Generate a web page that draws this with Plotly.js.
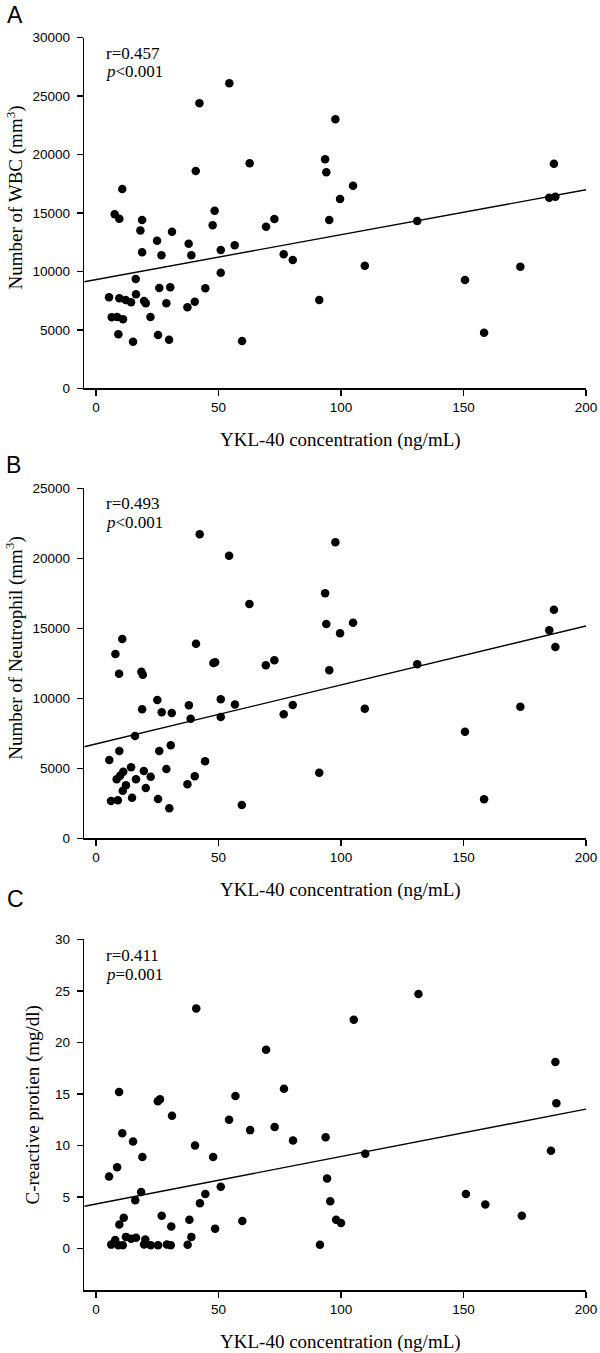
<!DOCTYPE html>
<html>
<head>
<meta charset="utf-8">
<script src="https://cdn.plot.ly/plotly-3.0.1.min.js"></script>
<style>
html,body{margin:0;padding:0;background:#fff;}
#chart{width:600px;height:1353px;}
</style>
</head>
<body>
<div id="chart"></div>
<script>
// ---------- DATA ----------
// Panel A: WBC vs YKL-40
const ykl40_A = [54.4,42.2,40.7,62.7,10.7,7.6,9.5,18.8,18.1,24.9,31.0,18.8,26.7,37.8,38.9,48.4,47.6,50.9,56.6,69.4,72.8,50.9,16.2,16.3,5.3,9.5,12.1,14.3,19.6,20.3,25.8,30.3,28.7,44.6,40.3,37.3,6.4,8.6,11.0,22.2,9.1,15.1,25.3,29.8,59.6,
  97.7,93.5,94.0,104.9,99.6,95.2,76.6,80.3,109.7,91.1,131.1,150.6,158.4,173.2,186.9,185.0,187.5];
const wbc = [26100,24400,18600,19250,17050,14900,14500,14400,13500,12630,13400,11640,11380,12370,11380,15200,13950,11830,12240,13830,14490,9890,9350,8040,7790,7700,7560,7360,7470,7270,8580,8640,7270,8560,7410,6930,6075,6100,5900,6100,4620,3990,4560,4160,4050,
  23020,19600,18480,17340,16200,14400,11470,10980,10490,7560,14320,9270,4760,10400,19220,16310,16400];

// Panel B: Neutrophil vs YKL-40
const ykl40_B = [42.3,54.3,62.6,10.7,7.9,9.4,18.5,19.1,40.8,47.9,48.6,69.3,72.8,18.8,25.0,26.8,30.9,37.9,38.6,50.9,50.9,56.7,15.9,9.5,5.4,25.8,30.5,44.5,14.3,11.1,9.8,8.4,19.5,22.3,16.3,28.7,40.3,37.3,12.2,10.9,20.3,14.7,6.1,8.9,25.3,29.9,59.5,
  97.7,93.5,94.0,104.9,99.6,95.2,76.6,80.3,109.7,91.1,131.1,150.6,158.4,173.2,186.9,185.0,187.5];
const neutrophil = [21710,20190,16740,14240,13160,11760,11900,11690,13900,12520,12570,12360,12710,9210,9880,9000,8950,9500,8540,9930,8660,9560,7310,6240,5590,6240,6640,5500,5070,4760,4470,4210,4800,4400,4210,4950,4430,3860,3790,3400,3590,2900,2660,2710,2810,2140,2380,
  21140,17500,15310,15400,14640,12000,8860,9520,9260,4690,12430,7610,2790,9400,16330,14860,13660];

// Panel C: CRP vs YKL-40
const ykl40_C = [40.9,69.4,9.4,25.2,26.1,56.9,31.0,54.3,62.9,72.9,10.7,15.1,40.4,18.9,47.8,8.6,5.3,50.9,18.4,44.6,16.0,42.4,26.8,11.3,9.5,38.1,30.7,48.6,59.7,38.9,12.2,14.3,16.3,20.1,7.8,6.2,9.1,10.9,19.6,22.3,25.3,28.9,30.5,37.4,
  131.6,105.2,76.7,80.4,93.7,109.9,94.3,95.6,98.0,100.0,91.4,151.0,158.9,173.8,187.5,187.9,185.7];
const crp = [23.3,19.3,15.2,14.3,14.5,14.8,12.9,12.5,11.5,11.8,11.2,10.4,10.0,8.9,8.9,7.9,7.0,6.0,5.5,5.3,4.7,4.4,3.2,3.0,2.35,2.8,2.15,1.95,2.7,1.15,1.15,0.97,1.06,0.9,0.84,0.4,0.35,0.35,0.42,0.35,0.35,0.42,0.35,0.39,
  24.7,22.2,15.5,10.5,10.8,9.2,6.8,4.6,2.8,2.5,0.39,5.3,4.3,3.2,18.1,14.1,9.5];

// Regression fits [intercept, slope]
const fitA = [9305, 38.4];
const fitB = [6745, 42.1];
const fitC = [4.34, 0.046];

// Labels
const panelLabels = ["A", "B", "C"];
const statsR = ["r=0.457", "r=0.493", "r=0.411"];
const statsP = ["<i>p</i>&lt;0.001", "<i>p</i>&lt;0.001", "<i>p</i>=0.001"];
const yTitles = ["Number of WBC (mm<sup>3</sup>)", "Number of Neutrophil (mm<sup>3</sup>)", "C-reactive protien (mg/dl)"];
const xTitle = "YKL-40 concentration (ng/mL)";
const xTicks = [0, 50, 100, 150, 200];
const yTicksA = [0, 5000, 10000, 15000, 20000, 25000, 30000];
const yTicksB = [0, 5000, 10000, 15000, 20000, 25000];
const yTicksC = [0, 5, 10, 15, 20, 25, 30];

// ---------- LAYOUT GEOMETRY (pixels) ----------
const W = 600, H = 1353;
const xLeftPx = 84.3, xRightPx = 586;
const xRange = [-4.8, 200];
const panels = [
  {top: 37.7, bottom: 388.3, yr: [0, 30000], ticks: yTicksA, fit: fitA, xs: ykl40_A, ys: wbc,
   label: [15, 15], rY: 53.3, pY: 71.7, titleX: 15, titleY: 197.5},
  {top: 488.3, bottom: 838.3, yr: [0, 25000], ticks: yTicksB, fit: fitB, xs: ykl40_B, ys: neutrophil,
   label: [13, 465], rY: 503.3, pY: 522.7, titleX: 15, titleY: 647.7},
  {top: 939.3, bottom: 1290, yr: [-4, 30], ticks: yTicksC, fit: fitC, xs: ykl40_C, ys: crp,
   label: [15, 899], rY: 955.7, pY: 974.3, titleX: 32, titleY: 1105.5}
];

const serif = "Liberation Serif, Times New Roman, serif";
const sans = "Liberation Sans, Arial, sans-serif";

const traces = [];
const layout = {
  width: W, height: H,
  margin: {l: 0, r: 0, t: 0, b: 0},
  paper_bgcolor: "#fff", plot_bgcolor: "#fff",
  showlegend: false,
  annotations: []
};

function px2x(p){ return p / W; }
function px2y(p){ return 1 - p / H; }

panels.forEach((p, i) => {
  const n = i === 0 ? "" : String(i + 1);
  const xa = "x" + n, ya = "y" + n;
  traces.push({
    x: p.xs, y: p.ys, xaxis: xa, yaxis: ya,
    type: "scatter", mode: "markers",
    marker: {color: "#000", size: 8.5},
    hoverinfo: "skip"
  });
  traces.push({
    x: xRange, y: xRange.map(v => p.fit[0] + p.fit[1] * v),
    xaxis: xa, yaxis: ya, type: "scatter", mode: "lines",
    line: {color: "#000", width: 1.4}, hoverinfo: "skip"
  });
  layout["xaxis" + n] = {
    domain: [px2x(xLeftPx), px2x(xRightPx)],
    range: xRange, anchor: ya,
    showline: true, linecolor: "#000", linewidth: 1.5,
    ticks: "outside", ticklen: 6, tickwidth: 1.5, tickcolor: "#000",
    tickvals: xTicks, ticktext: xTicks.map(String),
    tickfont: {family: sans, size: 13.5, color: "#000"},
    showgrid: false, zeroline: false
  };
  layout["yaxis" + n] = {
    domain: [px2y(p.bottom), px2y(p.top)],
    range: p.yr, anchor: xa,
    showline: true, linecolor: "#000", linewidth: 1.5,
    ticks: "outside", ticklen: 6, tickwidth: 1.5, tickcolor: "#000",
    tickvals: p.ticks, ticktext: p.ticks.map(String),
    ticklabelstandoff: 4,
    tickfont: {family: sans, size: 13.5, color: "#000"},
    showgrid: false, zeroline: false
  };
  // panel letter
  layout.annotations.push({
    text: panelLabels[i], xref: "paper", yref: "paper",
    x: px2x(p.label[0]), y: px2y(p.label[1]), xanchor: "center", yanchor: "middle",
    showarrow: false, font: {family: sans, size: 23, color: "#000"}
  });
  // stats
  layout.annotations.push({
    text: statsR[i], xref: "paper", yref: "paper",
    x: px2x(104), y: px2y(p.rY), xanchor: "left", yanchor: "middle",
    showarrow: false, font: {family: serif, size: 17, color: "#000"}
  });
  layout.annotations.push({
    text: statsP[i], xref: "paper", yref: "paper",
    x: px2x(104), y: px2y(p.pY), xanchor: "left", yanchor: "middle",
    showarrow: false, font: {family: serif, size: 17, color: "#000"}
  });
  // y title
  layout.annotations.push({
    text: yTitles[i], xref: "paper", yref: "paper", textangle: -90,
    x: px2x(p.titleX), y: px2y(p.titleY), xanchor: "center", yanchor: "middle",
    showarrow: false, font: {family: serif, size: 19, color: "#000"}
  });
  // x title
  layout.annotations.push({
    text: xTitle, xref: "paper", yref: "paper",
    x: px2x(340.5), y: px2y(p.bottom + 52), xanchor: "center", yanchor: "middle",
    showarrow: false, font: {family: serif, size: 19, color: "#000"}
  });
});

Plotly.newPlot("chart", traces, layout, {staticPlot: true, displayModeBar: false});
</script>
</body>
</html>
